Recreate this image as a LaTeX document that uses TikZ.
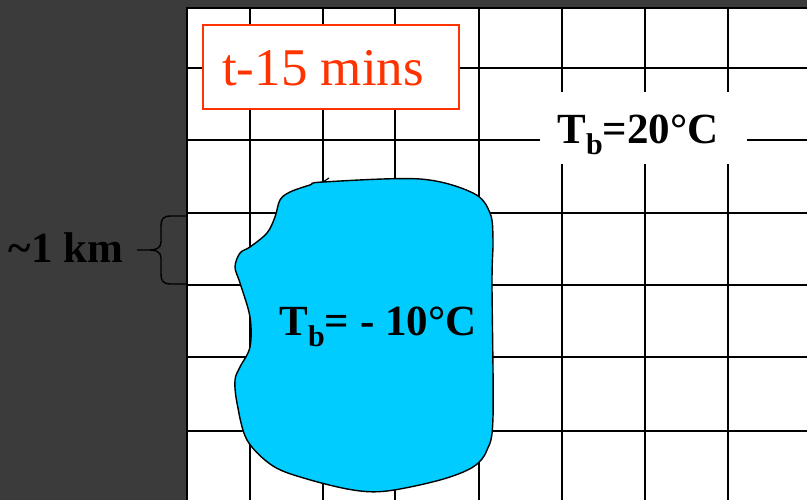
\documentclass[tikz,border=0pt]{standalone}
\usepackage{fontspec}
\setmainfont{Liberation Serif}
\definecolor{darkbg}{RGB}{59,59,59}
\definecolor{blobcyan}{RGB}{0,204,255}
\definecolor{redt}{RGB}{255,51,0}
\tikzset{
  gridline/.style={black, line width=1.3pt},
  bordline/.style={black, line width=1.8pt},
  bigbold/.style={font=\fontsize{43}{43}\selectfont\bfseries, inner sep=0pt},
  redbox/.style={draw=redt, fill=white, line width=1.3pt, inner sep=0pt},
  redtext/.style={text=redt, font=\fontsize{53}{53}\selectfont, inner sep=0pt},
}
\newcommand{\subb}{\raisebox{-11pt}{\fontsize{30}{30}\selectfont b}}
\begin{document}
\begin{tikzpicture}[x=1pt,y=-1pt]
\useasboundingbox (0,0) rectangle (807,500);
\fill[darkbg] (0,0) rectangle (807,500);
\fill[white] (187,8) rectangle (807,500);
% grid
\foreach \yy in {68,140,213,285,357,431} \draw[gridline] (187,\yy) -- (807,\yy);
\foreach \xx in {250,323,395,479,562,645,728} \draw[gridline] (\xx,8) -- (\xx,500);
\draw[bordline] (187,500) -- (187,8) -- (807,8);
% blob
\draw[fill=blobcyan, line width=1.4pt] plot[smooth cycle, tension=0.55] coordinates {
(323,182) (420,179) (473,193) (490,213) (493,240) (492,283) (493,417) (487,450)
(473,467) (440,480) (387,491) (353,490) (307,479) (273,466) (247,440) (237,403)
(235,380) (240,367) (250,347) (250,317) (240,283) (235,267) (240,253) (250,247)
(267,233) (275,217) (280,200) (290,192) (310,185)};
\draw[line width=1.2pt] (323,182) -- (329,178);
\node[bigbold, anchor=base] (cold) at (378,335) {T\subb= - 10°C};
% warm label
\node[fill=white, minimum width=207pt, minimum height=72pt, inner sep=0pt] (warmbox) at (643.5,128) {};
\node[bigbold, anchor=base] (warm) at (638,144) {T\subb=20°C};
% time box
\node[redbox, minimum width=256pt, minimum height=84pt] (tbox) at (331,67) {};
\node[redtext, anchor=base] (tlabel) at (323,86) {t-15 mins};
% km label and brace
\node[bigbold, anchor=base] (km) at (66,262) {\textasciitilde 1 km};
\coordinate (btop) at (187,216);
\coordinate (bbot) at (187,284);
\coordinate (btip) at (137,250);
\draw[black, line width=1.4pt] (btop) -- (171,216) .. controls (163,216) and (161,219) .. (161,226)
  -- (161,242) .. controls (161,248) and (156,250) .. (150,250) -- (btip);
\draw[black, line width=1.4pt] (bbot) -- (171,284) .. controls (163,284) and (161,281) .. (161,274)
  -- (161,258) .. controls (161,252) and (156,250) .. (150,250);
\end{tikzpicture}
\end{document}
